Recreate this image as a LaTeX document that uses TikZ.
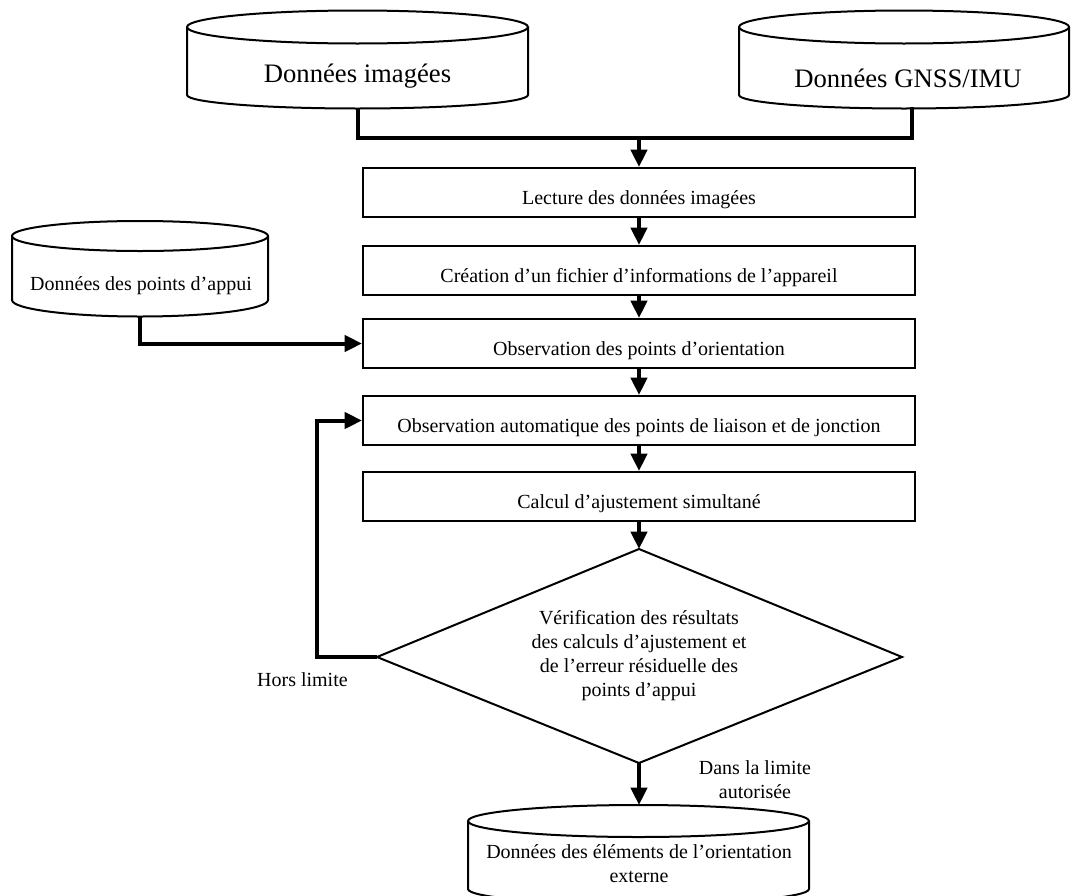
\documentclass[tikz,border=0pt]{standalone}
\usepackage{fontspec}
\setmainfont{Liberation Serif}
\usetikzlibrary{arrows.meta}
% #1 left x, #2 right x, #3 top ellipse centre y, #4 top ry, #5 bottom centre y, #6 bottom ry (all px)
\newcommand\drawcyl[6]{%
  \pgfmathsetmacro\cylcx{(#1+#2)/2}%
  \pgfmathsetmacro\cylrx{(#2-#1)/2*0.75}%
  \pgfmathsetmacro\cylrt{#4*0.75}%
  \pgfmathsetmacro\cylrb{#6*0.75}%
  \draw[cylline] (#1,#3) -- (#1,#5)
     arc[start angle=180,end angle=360,x radius=\cylrx pt,y radius=\cylrb pt] -- (#2,#3);
  \draw[cylline] (\cylcx,#3) ellipse[x radius=\cylrx pt,y radius=\cylrt pt];
}
\begin{document}
\begin{tikzpicture}[x=0.75pt,y=-0.75pt,
  stepbox/.style={draw,line width=1.5pt,minimum width=414pt,minimum height=36.75pt,
    inner sep=0pt,text height=17.25pt,text depth=0pt,font=\fontsize{15}{18}\selectfont},
  conn/.style={line width=3pt},
  arr/.style={conn,-{Triangle[length=13pt,width=12pt]}},
  cylline/.style={line width=1.5pt},
  lbl/.style={font=\fontsize{15}{18}\selectfont,inner sep=0pt},
  biglbl/.style={font=\fontsize{20}{24}\selectfont,inner sep=0pt},
]
\useasboundingbox (0,0) rectangle (1071,896);

% cylinders
\drawcyl{187}{528}{27}{16.5}{95}{13.5}
\drawcyl{739}{1069}{27}{16.5}{95}{13.5}
\drawcyl{12}{268}{236}{15}{300}{16.5}
\drawcyl{468}{809}{821}{16}{889}{15}

\node[biglbl,anchor=base] (img) at (357.5,82) {Données imagées};
\node[biglbl,anchor=base] (gnss) at (908,87) {Données GNSS/IMU};
\node[lbl,anchor=base] (gcp) at (141,290) {Données des points d’appui};
\node[lbl,align=center] (ext) at (639,864) {Données des éléments de l’orientation\\externe};

\coordinate (c1b) at (357.5,108.5);
\coordinate (c2b) at (912,107);
\coordinate (c3b) at (140,316.5);
\coordinate (c4t) at (639,805);
\coordinate (merge) at (639,138);

% process boxes
\node[stepbox,anchor=north] (b1) at (639,167) {Lecture des données imagées};
\node[stepbox,anchor=north] (b2) at (639,245) {Création d’un fichier d’informations de l’appareil};
\node[stepbox,anchor=north] (b3) at (639,318) {Observation des points d’orientation};
\node[stepbox,anchor=north] (b4) at (639,395) {Observation automatique des points de liaison et de jonction};
\node[stepbox,anchor=north] (b5) at (639,471) {Calcul d’ajustement simultané};

% decision
\coordinate (dt) at (639,549);
\coordinate (dl) at (377,657);
\coordinate (dr) at (902,657);
\coordinate (db) at (639,763);
\draw[line width=1.5pt] (dt) -- (dr) -- (db) -- (dl) -- cycle;
\node[lbl,align=center] (dtext) at (639,656) {Vérification des résultats\\des calculs d’ajustement et\\de l’erreur résiduelle des\\points d’appui};

% connectors
\draw[conn] (c1b) |- (merge) -| (c2b);
\draw[arr] (merge) -- (b1.north);
\draw[arr] (b1.south) -- (b2.north);
\draw[arr] (b2.south) -- (b3.north);
\draw[arr] (b3.south) -- (b4.north);
\draw[arr] (b4.south) -- (b5.north);
\draw[arr] (b5.south) -- (dt);
\draw[arr] (c3b) |- (b3.west);
\draw[arr] (dl) -- ++(-60,0) |- (b4.west);
\draw[arr] (db) -- (c4t);

% labels
\node[lbl,anchor=base east] (hors) at (348,686) {Hors limite};
\node[lbl,align=center] (dans) at (755,780) {Dans la limite\\autorisée};
\end{tikzpicture}
\end{document}
